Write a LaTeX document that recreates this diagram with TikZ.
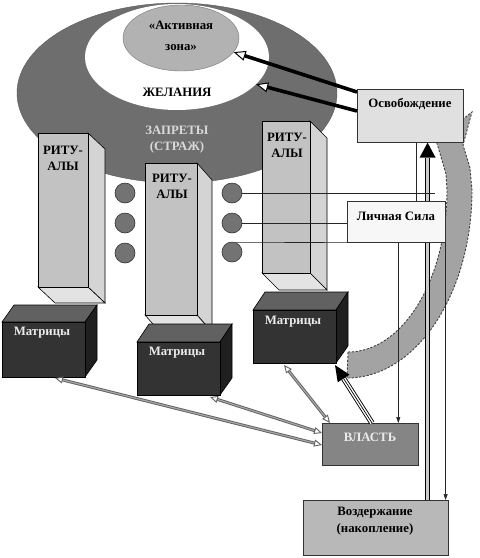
\documentclass[tikz,border=0pt]{standalone}
\usepackage{fontspec}
\setmainfont{Liberation Serif}
\usetikzlibrary{arrows.meta,shapes.geometric,calc}
\begin{document}
\begin{tikzpicture}[x=1pt,y=-1pt,
  every node/.style={inner sep=0pt,font=\bfseries\fontsize{12.8}{16}\selectfont},
  pilfront/.style={draw=black,line width=0.6pt,fill=black!24},
  pilside/.style={draw=black,line width=0.6pt,fill=black!17},
  pilbot/.style={draw=black,line width=0.6pt,fill=black!11},
  cubefront/.style={draw=black,line width=0.6pt,fill=black!80},
  cubetop/.style={draw=black,line width=0.6pt,fill=black!62},
  cubeside/.style={draw=black,line width=0.6pt,fill=black!88},
  ball/.style={circle,draw=black!80,line width=0.6pt,fill=black!55,minimum size=20pt},
  boxbase/.style={draw=black!80,line width=0.6pt,anchor=north west},
  thinline/.style={draw=black!85,line width=0.6pt},
  thinarrow/.style={thinline,-{Triangle[length=6pt,width=4pt]}},
  thickarrow/.style={draw=black,line width=3.6pt,-{Triangle[fill=white,line width=1pt,length=12pt,width=10pt]}},
  grayarrow/.style={draw=black!62,line width=0.9pt,double=black!35,double distance=1.2pt,
     {Triangle[open,length=8pt,width=7pt]}-{Triangle[open,length=8pt,width=7pt]}},
  bandstyle/.style={draw=black!75,line width=0.9pt,dash pattern=on 2.2pt off 1.6pt,fill=black!36},
  whitetext/.style={text=black!8},
]
\useasboundingbox (0,0) rectangle (480,558);

% ellipses
\node[ellipse,draw=black!65,fill=black!57,minimum width=320pt,minimum height=180pt] (outer) at (177,93) {};
\node[ellipse,fill=white,minimum width=184pt,minimum height=106pt] (inner) at (177,57) {};
\node[ellipse,draw=black!55,fill=black!30,minimum width=116pt,minimum height=66pt] (act) at (181,38) {};
\node (act1) at (181,25) {«Активная};
\node (act2) at (181,48) {зона»};
\node (zhel) at (177,92) {ЖЕЛАНИЯ};
\node[align=center,text=black!15] (zapr) at (177,140) {ЗАПРЕТЫ\\(СТРАЖ)};

% pillars
\filldraw[pilside] (88,133) -- (105,149) -- (105,303) -- (88,287) -- cycle;
\filldraw[pilbot] (38,287) -- (88,287) -- (105,303) -- (55,303) -- cycle;
\filldraw[pilfront] (38,133) rectangle (88,287);
\node[align=center] (rit1) at (63,158) {РИТУ-\\АЛЫ};

\filldraw[pilside] (197,163) -- (212,180) -- (212,332) -- (197,315) -- cycle;
\filldraw[pilbot] (145,315) -- (197,315) -- (212,332) -- (160,332) -- cycle;
\filldraw[pilfront] (145,163) rectangle (197,315);
\node[align=center] (rit2) at (172,186) {РИТУ-\\АЛЫ};

\filldraw[pilside] (310,121) -- (327,138) -- (327,290) -- (310,273) -- cycle;
\filldraw[pilbot] (262,273) -- (310,273) -- (327,290) -- (279,290) -- cycle;
\filldraw[pilfront] (262,121) rectangle (310,273);
\node[align=center] (rit3) at (287,145) {РИТУ-\\АЛЫ};

% balls
\node[ball] (lc1) at (125,193) {};
\node[ball] (lc2) at (125,223) {};
\node[ball] (lc3) at (125,253) {};
\node[ball] (rc1) at (232,193) {};
\node[ball] (rc2) at (232,223) {};
\node[ball] (rc3) at (232,252) {};

% cubes
\filldraw[cubetop] (2,322) -- (14,305) -- (97,305) -- (85,322) -- cycle;
\filldraw[cubeside] (85,322) -- (97,305) -- (97,360) -- (85,377) -- cycle;
\filldraw[cubefront] (2,322) rectangle (85,377);
\node[whitetext] (mt1) at (42,333) {Матрицы};

\filldraw[cubetop] (137,342) -- (149,324) -- (232,324) -- (220,342) -- cycle;
\filldraw[cubeside] (220,342) -- (232,324) -- (232,378) -- (220,395) -- cycle;
\filldraw[cubefront] (137,342) rectangle (220,395);
\node[whitetext] (mt2) at (177,353) {Матрицы};

\filldraw[cubetop] (253,310) -- (265,292) -- (348,292) -- (336,310) -- cycle;
\filldraw[cubeside] (336,310) -- (348,292) -- (348,346) -- (336,363) -- cycle;
\filldraw[cubefront] (253,310) rectangle (336,363);
\node[whitetext] (mt3) at (293,322) {Матрицы};

\coordinate (m1a) at (55,378);
\coordinate (m2a) at (210,397);
\coordinate (m3a) at (284,365);
\coordinate (m3br) at (335,365);

% gray curved band
\filldraw[bandstyle] (348,352) .. controls (403,352) and (447,279) .. (447,190)
  -- (446,174) -- (436,140) -- (472,112) -- (463,145) -- (470,168) -- (472,190)
  .. controls (472,294) and (416,378) .. (347,378) -- cycle;

% boxes (Osv first, then the double line that runs behind Lichnaya Sila)
\node[boxbase,fill=black!12,minimum width=106pt,minimum height=53pt] (osv) at (357,89) {};
\node (osvt) at (410,104) {Освобождение};
\node[boxbase,fill=black!48,minimum width=96pt,minimum height=42pt] (vl) at (322,423) {};
\node[whitetext] (vlt) at (370,437) {ВЛАСТЬ};
\node[boxbase,fill=black!28,minimum width=145pt,minimum height=55pt] (voz) at (303,500) {};
\node[align=center] (vozt) at (375,521) {Воздержание\\[1pt](накопление)};

% double line up arrow
\coordinate (dbot) at ([xshift=-21pt]voz.north east);
\coordinate (dtop) at (dbot |- osv.south);
\coordinate (dbase) at ([yshift=-15pt]dtop);
\draw[line width=0.9pt,double=black!20,double distance=3.6pt] (dbot) -- (dbase);
\fill[black] (dtop) -- ([xshift=-8pt]dbase) -- ([xshift=8pt]dbase) -- cycle;

\node[boxbase,fill=black!3,minimum width=98pt,minimum height=41pt] (ls) at (347,201) {};
\node (lst) at (396,216) {Личная Сила};

% thick arrows into the zones
\draw[thickarrow] ([yshift=-3pt]osv.north west) -- (act.-15);
\draw[thickarrow] ([yshift=-22pt]osv.north west) -- (inner.-19);

% thin lines
\coordinate (osvl) at ([xshift=6pt]osv.south);
\draw[thinline] (osvl) -- (osvl |- ls.north);
\coordinate (c1end) at (435,193);
\draw[thinline] (rc1.east) -- (c1end);
\draw[thinline] (rc2.east) -- (rc2.east -| ls.west);
\draw[thinline] (rc3.70) -- (ls.south west);
\coordinate (lsd) at ([xshift=2pt]ls.south);
\draw[thinarrow] (lsd) -- (lsd |- vl.north);
\draw[thinarrow] (ls.south east) -- (ls.south east |- voz.north);

% triple line arrow from power
\coordinate (vls) at ([xshift=50pt]vl.north west);
\coordinate (tbase) at ($(m3br)!16pt!(vls)$);
\draw[line width=0.9pt,double=white,double distance=3.6pt] (vls) -- (tbase);
\draw[line width=0.7pt] (vls) -- (tbase);
\fill[black] (m3br) -- ($(tbase)!7pt!90:(m3br)$) -- ($(tbase)!7pt!-90:(m3br)$) -- cycle;

% gray double arrows
\draw[grayarrow] (m1a) -- ([yshift=-22pt]vl.north west);
\draw[grayarrow] (m2a) -- ([yshift=-10pt]vl.north west);
\draw[grayarrow] (m3a) -- ([xshift=8pt]vl.north west);
\end{tikzpicture}
\end{document}
